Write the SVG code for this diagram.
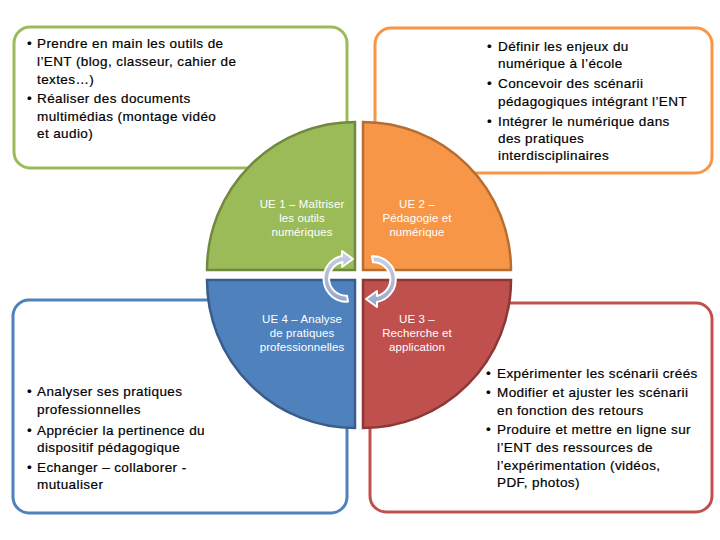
<svg xmlns="http://www.w3.org/2000/svg" width="720" height="540" viewBox="0 0 720 540">
<style>
.box{fill:#fff;stroke-width:3}
.t{font-family:"Liberation Sans",Arial,sans-serif;font-size:13.5px;letter-spacing:0.4px;fill:#000;stroke:#000;stroke-width:0.2}
.q{font-family:"Liberation Sans",Arial,sans-serif;font-size:11.5px;letter-spacing:0.1px;fill:#fff;text-anchor:middle}
.arr{fill:url(#ag);stroke:#fff;stroke-width:2;stroke-linejoin:round}
</style>
<defs>
<linearGradient id="ag" x1="0" y1="0" x2="0" y2="1">
<stop offset="0" stop-color="#c9d0e4"/>
<stop offset="1" stop-color="#98a6c8"/>
</linearGradient>
</defs>
<rect width="720" height="540" fill="#fff"/>
<g id="box-green">
<rect class="box" x="14" y="27" width="333" height="141" rx="16" stroke="#9bbb59"/>
<text class="t" x="27" y="48">•</text>
<text class="t" x="37" y="48">Prendre en main les outils de</text>
<text class="t" x="37" y="66">l’ENT (blog, classeur, cahier de</text>
<text class="t" x="37" y="84">textes…)</text>
<text class="t" x="27" y="103">•</text>
<text class="t" x="37" y="103">Réaliser des documents</text>
<text class="t" x="37" y="121">multimédias (montage vidéo</text>
<text class="t" x="37" y="138">et audio)</text>
</g>
<g id="box-orange">
<rect class="box" x="375" y="28" width="337" height="145" rx="16" stroke="#f79646"/>
<text class="t" x="487" y="51">•</text>
<text class="t" x="498" y="51">Définir les enjeux du</text>
<text class="t" x="498" y="68">numérique à l’école</text>
<text class="t" x="487" y="88">•</text>
<text class="t" x="498" y="88">Concevoir des scénarii</text>
<text class="t" x="498" y="106">pédagogiques intégrant l’ENT</text>
<text class="t" x="487" y="126">•</text>
<text class="t" x="498" y="126">Intégrer le numérique dans</text>
<text class="t" x="498" y="143">des pratiques</text>
<text class="t" x="498" y="160">interdisciplinaires</text>
</g>
<g id="box-blue">
<rect class="box" x="13" y="300" width="334" height="213" rx="16" stroke="#4f81bd"/>
<text class="t" x="27" y="396">•</text>
<text class="t" x="37" y="396">Analyser ses pratiques</text>
<text class="t" x="37" y="414">professionnelles</text>
<text class="t" x="27" y="435">•</text>
<text class="t" x="37" y="435">Apprécier la pertinence du</text>
<text class="t" x="37" y="452">dispositif pédagogique</text>
<text class="t" x="27" y="472">•</text>
<text class="t" x="37" y="472">Echanger – collaborer -</text>
<text class="t" x="37" y="489">mutualiser</text>
</g>
<g id="box-red">
<rect class="box" x="370" y="303" width="342" height="209" rx="16" stroke="#c0504d"/>
<text class="t" x="486" y="378">•</text>
<text class="t" x="497" y="378">Expérimenter les scénarii créés</text>
<text class="t" x="486" y="397">•</text>
<text class="t" x="497" y="397">Modifier et ajuster les scénarii</text>
<text class="t" x="497" y="415">en fonction des retours</text>
<text class="t" x="486" y="434">•</text>
<text class="t" x="497" y="434">Produire et mettre en ligne sur</text>
<text class="t" x="497" y="452">l’ENT des ressources de</text>
<text class="t" x="497" y="470">l’expérimentation (vidéos,</text>
<text class="t" x="497" y="487">PDF, photos)</text>
</g>
<g id="ue1">
<path d="M355,270 L207,270 A148,148 0 0 1 355,122 Z" fill="#9bbb59" stroke="#71893f" stroke-width="2.5"/>
<text class="q" x="302" y="208">UE 1 – Maîtriser</text>
<text class="q" x="302" y="222">les outils</text>
<text class="q" x="302" y="236">numériques</text>
</g>
<g id="ue2">
<path d="M363,270 L363,122 A148,148 0 0 1 511,270 Z" fill="#f79646" stroke="#b66d31" stroke-width="2.5"/>
<text class="q" x="417" y="208">UE 2 –</text>
<text class="q" x="417" y="222">Pédagogie et</text>
<text class="q" x="417" y="236">numérique</text>
</g>
<g id="ue4">
<path d="M355,280 L355,428 A148,148 0 0 1 207,280 Z" fill="#4f81bd" stroke="#385d8a" stroke-width="2.5"/>
<text class="q" x="302" y="323">UE 4 – Analyse</text>
<text class="q" x="302" y="337">de pratiques</text>
<text class="q" x="302" y="351">professionnelles</text>
</g>
<g id="ue3">
<path d="M363,280 L511,280 A148,148 0 0 1 363,428 Z" fill="#c0504d" stroke="#8c3836" stroke-width="2.5"/>
<text class="q" x="417" y="323">UE 3 –</text>
<text class="q" x="417" y="337">Recherche et</text>
<text class="q" x="417" y="351">application</text>
</g>
<g id="connectors">
<path class="arr" d="M348,301.6 A23,23 0 0 1 342,256.1 L342,251 L353,259 L342,267 L342.5,262.1 A17,17 0 0 0 347,295.7 Z"/>
<path class="arr" d="M372,256.3 A23,23 0 0 1 377,301.9 L377,307 L366,299 L377,291 L377,295.9 A17,17 0 0 0 373,262.3 Z"/>
</g>
</svg>
